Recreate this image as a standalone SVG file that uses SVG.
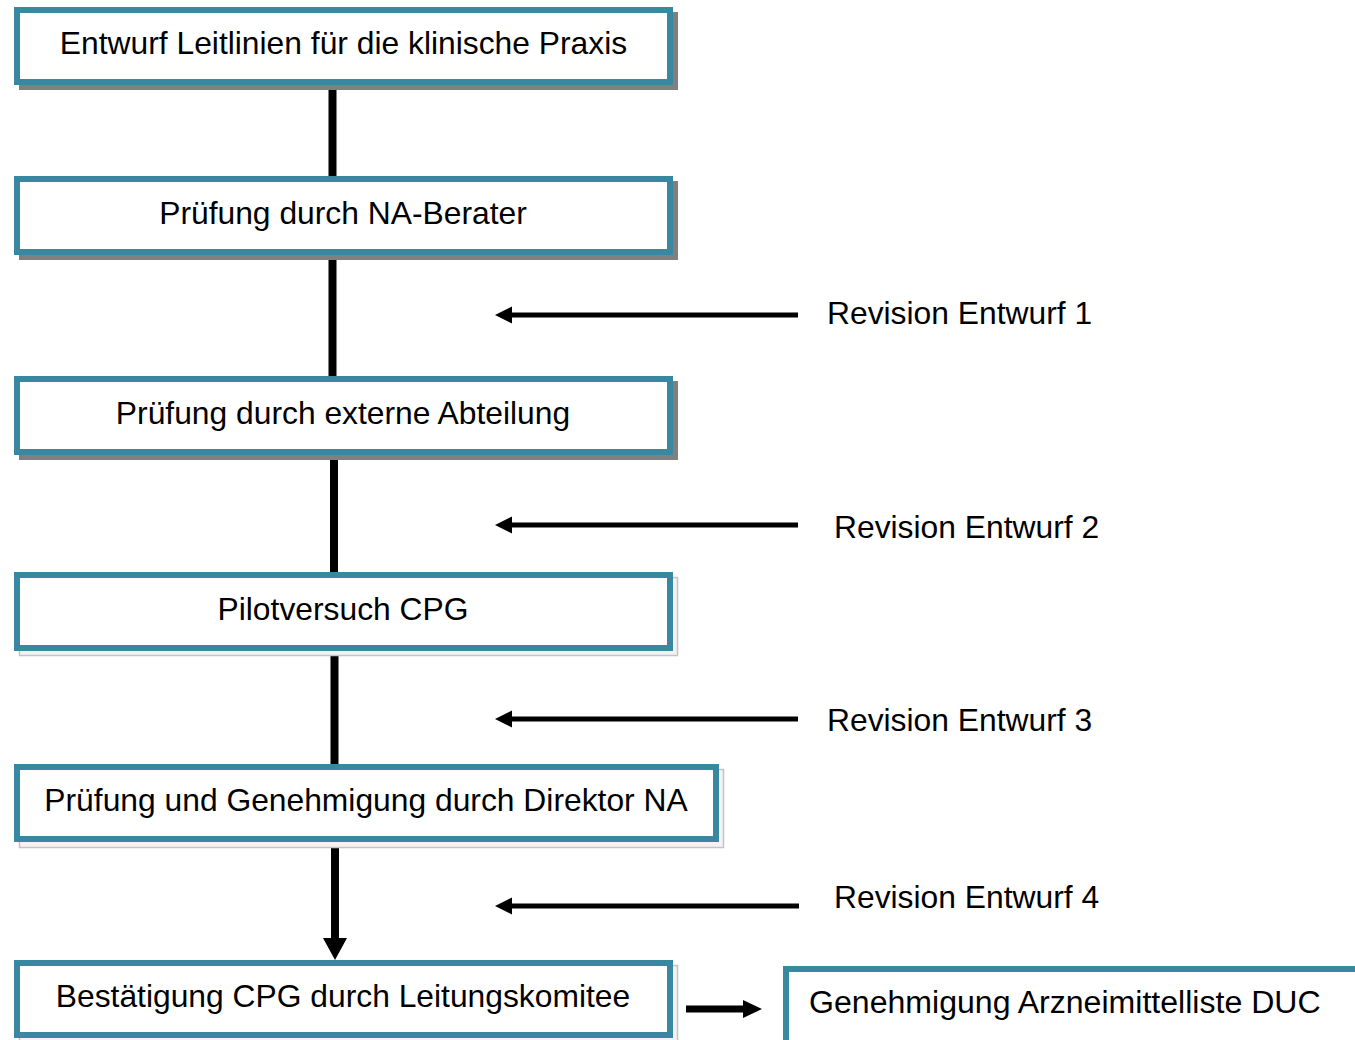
<svg xmlns="http://www.w3.org/2000/svg" width="1355" height="1040" viewBox="0 0 1355 1040">
<style>
.box{fill:#fff;stroke:#3A87A2;stroke-width:6}
.sh{fill:#808080}
.lsh{fill:#f3f3f3;stroke:#c4c4c4;stroke-width:1.5}
.t{font-family:"Liberation Sans",Arial,sans-serif;font-size:31.8px;fill:#000}
.c{text-anchor:middle}
.ln{stroke:#000;fill:none}
.ah{fill:#000}
</style>
<rect width="1355" height="1040" fill="#fff"/>
<g id="connectors">
<line class="ln" x1="332.5" y1="85" x2="332.5" y2="177" stroke-width="8"/>
<line class="ln" x1="332.5" y1="255" x2="332.5" y2="377" stroke-width="8"/>
<line class="ln" x1="334" y1="455" x2="334" y2="573" stroke-width="8"/>
<line class="ln" x1="334.5" y1="651" x2="334.5" y2="765" stroke-width="8"/>
<line class="ln" x1="335" y1="842" x2="335" y2="939" stroke-width="8"/>
<polygon class="ah" points="323,938 347,938 335,960"/>
<line class="ln" x1="511" y1="315" x2="798" y2="315" stroke-width="5"/>
<polygon class="ah" points="495,315 512,306.5 512,323.5"/>
<line class="ln" x1="511" y1="525" x2="798" y2="525" stroke-width="5"/>
<polygon class="ah" points="495,525 512,516.5 512,533.5"/>
<line class="ln" x1="511" y1="719" x2="798" y2="719" stroke-width="5"/>
<polygon class="ah" points="495,719 512,710.5 512,727.5"/>
<line class="ln" x1="511" y1="906" x2="799" y2="906" stroke-width="5"/>
<polygon class="ah" points="495,906 512,897.5 512,914.5"/>
<line class="ln" x1="686" y1="1009" x2="745" y2="1009" stroke-width="7"/>
<polygon class="ah" points="743,1000 762,1009 743,1018"/>
</g>
<g id="n1">
<rect class="sh" x="19" y="12" width="659" height="78"/>
<rect class="box" x="17" y="10" width="653" height="72"/>
<text class="t c" x="343.5" y="54">Entwurf Leitlinien für die klinische Praxis</text>
</g>
<g id="n2">
<rect class="sh" x="19" y="181" width="659" height="79"/>
<rect class="box" x="17" y="179" width="653" height="73"/>
<text class="t c" x="343" y="224">Prüfung durch NA-Berater</text>
</g>
<g id="n3">
<rect class="sh" x="19" y="381" width="659" height="79"/>
<rect class="box" x="17" y="379" width="653" height="73"/>
<text class="t c" x="343" y="424">Prüfung durch externe Abteilung</text>
</g>
<g id="n4">
<rect class="lsh" x="19.5" y="577.5" width="658" height="78"/>
<rect class="box" x="17" y="575" width="653" height="73"/>
<text class="t c" x="343" y="620">Pilotversuch CPG</text>
</g>
<g id="n5">
<rect class="lsh" x="19.5" y="769.5" width="704" height="78"/>
<rect class="box" x="17" y="767" width="699" height="72"/>
<text class="t c" x="366" y="811">Prüfung und Genehmigung durch Direktor NA</text>
</g>
<g id="n6">
<rect class="lsh" x="19.5" y="965.5" width="658" height="78"/>
<rect class="box" x="17" y="963" width="653" height="72"/>
<text class="t c" x="343" y="1007">Bestätigung CPG durch Leitungskomitee</text>
</g>
<g id="n7">
<rect class="box" x="786" y="969" width="620" height="80"/>
<text class="t" x="809" y="1013" style="font-size:32.1px">Genehmigung Arzneimittelliste DUC</text>
</g>
<g id="labels">
<text class="t" x="827" y="324">Revision Entwurf 1</text>
<text class="t" x="834" y="538">Revision Entwurf 2</text>
<text class="t" x="827" y="731">Revision Entwurf 3</text>
<text class="t" x="834" y="908">Revision Entwurf 4</text>
</g>
</svg>
